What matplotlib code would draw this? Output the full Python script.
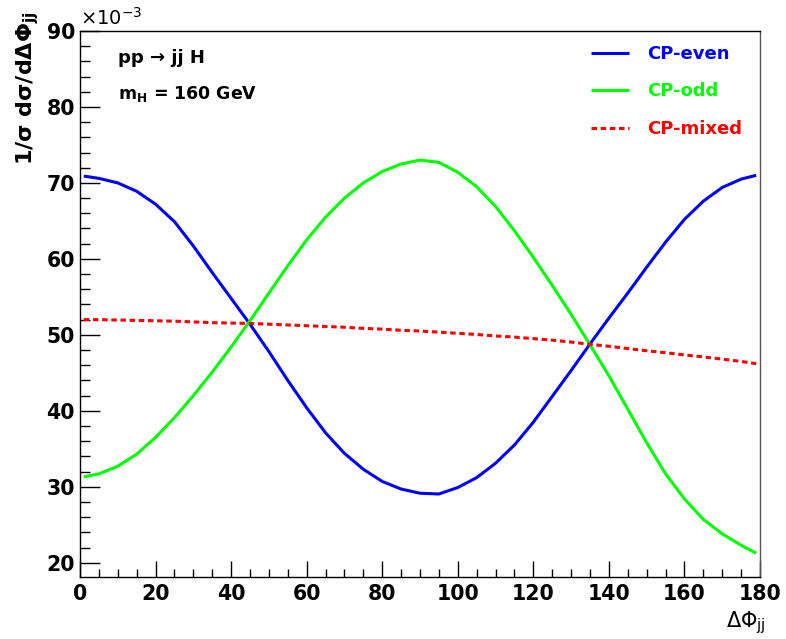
import matplotlib
matplotlib.use("Agg")
import matplotlib.pyplot as plt
from matplotlib.ticker import MultipleLocator

plt.rcParams['font.family'] = ['DejaVu Sans']
plt.rcParams['mathtext.fontset'] = 'dejavusans'

# Delta Phi_jj (degrees)
dphi = [1, 5, 10, 15, 20, 25, 30, 35, 40, 45, 50, 55, 60, 65, 70, 75, 80, 85, 90,
        95, 100, 105, 110, 115, 120, 125, 130, 135, 140, 145, 150, 155, 160, 165,
        170, 175, 179]

# values in units of 1e-3
cp_even = [70.9, 70.6, 70.0, 68.9, 67.2, 64.9, 61.7, 58.2, 54.8, 51.4, 47.8, 44.0,
           40.4, 37.1, 34.4, 32.3, 30.7, 29.7, 29.15, 29.05, 29.9, 31.2, 33.1, 35.5,
           38.5, 41.9, 45.3, 48.8, 52.2, 55.5, 58.9, 62.2, 65.2, 67.6, 69.4, 70.5,
           71.0]

cp_odd = [31.3, 31.7, 32.7, 34.3, 36.5, 39.1, 42.0, 45.1, 48.4, 51.85, 55.5, 59.1,
          62.5, 65.5, 68.0, 70.0, 71.5, 72.5, 73.0, 72.7, 71.4, 69.5, 66.9, 63.7,
          60.2, 56.5, 52.7, 48.7, 44.6, 40.2, 35.8, 31.7, 28.4, 25.7, 23.8, 22.3,
          21.25]

cp_mixed = [52.0, 52.0, 51.95, 51.9, 51.85, 51.8, 51.7, 51.6, 51.55, 51.5, 51.4,
            51.3, 51.2, 51.1, 51.0, 50.85, 50.75, 50.6, 50.5, 50.35, 50.2, 50.05,
            49.85, 49.7, 49.5, 49.3, 49.05, 48.75, 48.5, 48.2, 47.9, 47.65, 47.35,
            47.1, 46.8, 46.5, 46.2]

labels = ["CP-even", "CP-odd", "CP-mixed"]
colors = ["#0000ff", "#00ff00", "#ff0000"]

W, H = 786, 639
fig = plt.figure(figsize=(W / 100, H / 100), dpi=100)
ax = fig.add_axes([80 / W, 1 - 577 / H, 680 / W, 546 / H])

kw = dict(lw=2.2, solid_joinstyle='round', solid_capstyle='butt')
ax.plot(dphi, cp_even, color=colors[0], label=labels[0], **kw)
ax.plot(dphi, cp_odd, color=colors[1], label=labels[1], **kw)
ax.plot(dphi, cp_mixed, color=colors[2], lw=2.2, dashes=(1.8, 1.2),
        label=labels[2])

ax.set_xlim(0, 180)
ax.set_ylim(18.12, 90)

ax.xaxis.set_major_locator(MultipleLocator(20))
ax.xaxis.set_minor_locator(MultipleLocator(5))
ax.yaxis.set_major_locator(MultipleLocator(10))
ax.yaxis.set_minor_locator(MultipleLocator(2))

ax.tick_params(axis='both', which='both', direction='in', top=False, right=False,
               width=1.0, labelsize=14.8)
ax.tick_params(axis='y', which='major', length=14.4, pad=3.6)
ax.tick_params(axis='y', which='minor', length=7.2)
ax.tick_params(axis='x', which='major', length=11.5, pad=5)
ax.tick_params(axis='x', which='minor', length=5.8)
for lab in ax.get_xticklabels() + ax.get_yticklabels():
    lab.set_fontweight('bold')

for s in ax.spines.values():
    s.set_linewidth(1.0)
ax.spines['right'].set_color('#5e5050')

# axis titles
fig.text(28 / W, 1 - 11 / H, '1/σ dσ/dΔΦ' + r'$_{\mathbf{jj}}$', rotation=90,
         ha='center', va='top', fontsize=16, fontweight='bold')
fig.text(766 / W, 1 - 627 / H, 'ΔΦ' + r'$_{\mathrm{jj}}$', ha='right',
         va='baseline', fontsize=15)
fig.text(80 / W, 1 - 25 / H, r'$\times\mathrm{10}^{\mathrm{-3}}$', ha='left',
         va='baseline', fontsize=14)

# annotations
fig.text(118 / W, 1 - 63 / H, 'pp → jj H', fontsize=13, fontweight='bold')
fig.text(118 / W, 1 - 99 / H, r'm$_{\mathbf{H}}$ = 160 GeV', fontsize=12.5,
         fontweight='bold')

leg = ax.legend(loc='upper left', bbox_to_anchor=(591 / W, 1 - 45 / H),
                bbox_transform=fig.transFigure, frameon=False, borderpad=0,
                borderaxespad=0, handlelength=2.1, handletextpad=1.0,
                labelspacing=1.08, prop={'size': 13, 'weight': 'bold'},
                labelcolor='linecolor')

fig.savefig('out.png', dpi=100)
